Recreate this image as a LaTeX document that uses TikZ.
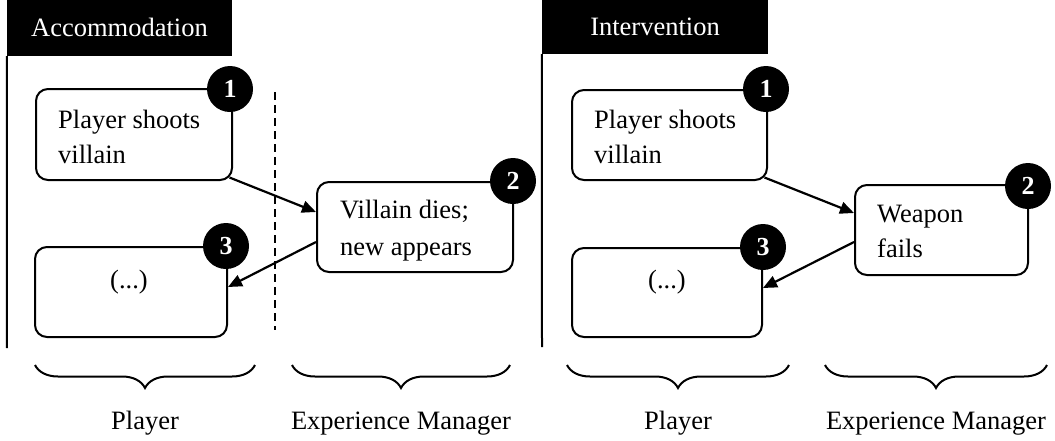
\documentclass[tikz,border=0pt]{standalone}
\usepackage{fontspec}
\setmainfont{Liberation Serif}
\usetikzlibrary{arrows.meta,calc,decorations.pathreplacing}

\begin{document}
\begin{tikzpicture}[x=1pt,y=-1pt,
  every node/.style={font=\fontsize{26.5}{36}\selectfont},
  titlebar/.style={fill=black,text=white,inner sep=0pt,text height=16pt,text depth=0pt},
  stepbox/.style={draw,line width=2pt,rounded corners=12pt,inner sep=0pt},
  badge/.style={circle,fill=black,text=white,minimum size=46pt,inner sep=0pt,
    font=\fontsize{26}{30}\selectfont\bfseries},
  linetext/.style={anchor=base west,inner sep=0pt},
  centertext/.style={anchor=base,inner sep=0pt},
  flow/.style={line width=2.2pt,-{Triangle[length=14pt,width=12pt]}},
  panel/.style={line width=2pt},
  divider/.style={line width=2pt,dash pattern=on 8pt off 5pt},
  group/.style={line width=2pt,decorate,decoration={brace,mirror,amplitude=23pt}},
  role/.style={anchor=base,inner sep=0pt}
]
\useasboundingbox (0,0) rectangle (1055,440);

% ---------- Accommodation panel ----------
\node[titlebar,minimum width=225pt,minimum height=56pt] (tA) at (119.5,28) {Accommodation};
\coordinate (pA) at (7,348);
\draw[panel] (tA.south west) -- (pA);

\coordinate (dTop) at (275,92);
\coordinate (dBot) at (275,330);
\draw[divider] (dTop) -- (dBot);

\node[stepbox,minimum width=196pt,minimum height=91pt] (A1) at (134,134.5) {};
\node[stepbox,minimum width=196pt,minimum height=90pt] (A2) at (415,227) {};
\node[stepbox,minimum width=192pt,minimum height=90pt] (A3) at (131,292) {};

\node[linetext] (A1a) at (58,128) {Player shoots};
\node[linetext] (A1b) at (58,163) {villain};
\node[linetext] (A2a) at (340,218) {Villain dies;};
\node[linetext] (A2b) at (340,255) {new appears};
\node[centertext] (A3a) at (129,288) {(...)};

\node[badge] (nA1) at ($(A1.north east)+(-3,1)$) {1};
\node[badge] (nA2) at ($(A2.north east)+(-1,0)$) {2};
\node[badge] (nA3) at ($(A3.north east)+(-2,0)$) {3};

\draw[flow] ($(A1.south east)+(-3.5,-3.5)$) -- ($(A2.west)+(0,-15)$);
\draw[flow] ($(A2.west)+(0,15)$) -- ($(A3.east)+(0,-5)$);

% ---------- Intervention panel ----------
\node[titlebar,minimum width=226pt,minimum height=54pt] (tI) at (655,27) {Intervention};
\coordinate (pI) at (542,347);
\draw[panel] (tI.south west) -- (pI);

\node[stepbox,minimum width=195pt,minimum height=90pt] (I1) at (669.5,135) {};
\node[stepbox,minimum width=173pt,minimum height=90pt] (I2) at (941.5,230) {};
\node[stepbox,minimum width=190pt,minimum height=89pt] (I3) at (667,292.5) {};

\node[linetext] (I1a) at (594,128) {Player shoots};
\node[linetext] (I1b) at (594,163) {villain};
\node[linetext] (I2a) at (877,222) {Weapon};
\node[linetext] (I2b) at (877,257) {fails};
\node[centertext] (I3a) at (667,288) {(...)};

\node[badge] (nI1) at ($(I1.north east)+(-2,0)$) {1};
\node[badge] (nI2) at ($(I2.north east)+(-1,2)$) {2};
\node[badge] (nI3) at (I3.north east) {3};

\draw[flow] ($(I1.south east)+(-3.5,-3.5)$) -- ($(I2.west)+(0,-17)$);
\draw[flow] ($(I2.west)+(0,12)$) -- ($(I3.east)+(0,-4.5)$);

% ---------- role braces ----------
\coordinate (g1a) at (35,365);  \coordinate (g1b) at (255,365);
\coordinate (g2a) at (292,365); \coordinate (g2b) at (510,365);
\coordinate (g3a) at (567,365); \coordinate (g3b) at (789,365);
\coordinate (g4a) at (825,365); \coordinate (g4b) at (1047,365);
\draw[group] (g1a) -- (g1b);
\draw[group] (g2a) -- (g2b);
\draw[group] (g3a) -- (g3b);
\draw[group] (g4a) -- (g4b);

\node[role] (r1) at ($(g1a)!0.5!(g1b)+(0,64)$) {Player};
\node[role] (r2) at ($(g2a)!0.5!(g2b)+(0,64)$) {Experience Manager};
\node[role] (r3) at ($(g3a)!0.5!(g3b)+(0,64)$) {Player};
\node[role] (r4) at ($(g4a)!0.5!(g4b)+(0,64)$) {Experience Manager};
\end{tikzpicture}
\end{document}
